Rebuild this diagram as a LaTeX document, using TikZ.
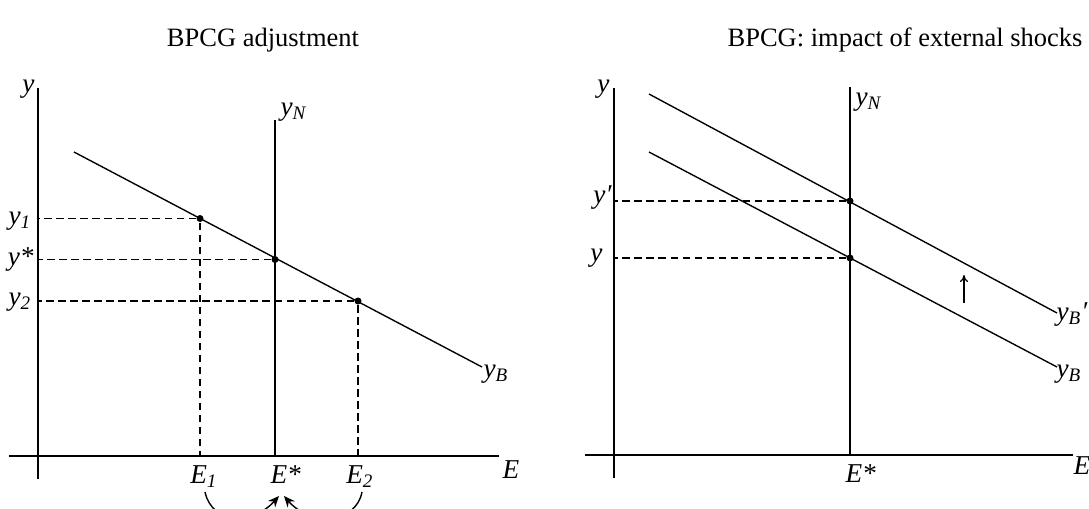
\documentclass[tikz,border=0pt]{standalone}
\usepackage{fontspec}
\setmainfont{Liberation Serif}
\usepackage{tikz}
\usetikzlibrary{arrows.meta,positioning,calc}
\newcommand{\lsub}[1]{\textsubscript{#1}}
\tikzset{
  axis/.style={draw=black,line width=0.8pt},
  sched/.style={draw=black,line width=0.55pt},
  guide/.style={draw=black,line width=0.55pt,dash pattern=on 3pt off 1.8pt},
  dot/.style={circle,fill=black,inner sep=0pt,minimum size=2.8pt},
  lbl/.style={inner sep=0pt,font=\fontsize{10.9}{13}\selectfont\itshape},
  ttl/.style={inner sep=0pt,font=\fontsize{10.6}{13}\selectfont},
  swing/.style={line width=0.55pt,-{Stealth[length=4.4pt,width=3.8pt]}},
  push/.style={line width=0.5pt,-{To[length=2.8pt,width=3.2pt]}},
}
\begin{document}
\begin{tikzpicture}[x=0.4pt,y=-0.4pt]
  \useasboundingbox (0,0) rectangle (1089,508);
  % --- left panel: adjustment ---
  \node[ttl,anchor=base](t1) at (263,46){BPCG adjustment};
  \coordinate (ax1l) at (9,456);   \coordinate (ax1r) at (499,456);
  \coordinate (ay1t) at (38,88);   \coordinate (ay1b) at (38,479);
  \coordinate (n1t) at (275,120);  \coordinate (n1b) at (275,456);
  \coordinate (b1s) at (74,152);   \coordinate (b1e) at (482,367);
  \draw[axis](ax1l)--(ax1r);
  \draw[axis](ay1t)--(ay1b);
  \draw[sched](n1t)--(n1b);
  \draw[sched](b1s)--(b1e);
  \node[dot](p1) at (200,218.5){};
  \node[dot](p2) at (275,259.5){};
  \node[dot](p3) at (358,301){};
  \foreach \p in {p1,p2,p3}
    \draw[guide](\p)--(\p -| ay1t);
  \foreach \p in {p1,p3}
    \draw[guide](\p)--(\p |- ax1l);
  \node[lbl,anchor=base east](ly)  at (35,92){y};
  \node[lbl,anchor=base east](ly1) at (32,224){y\lsub{1}};
  \node[lbl,anchor=base east](lys) at (34,265){y*};
  \node[lbl,anchor=base east](ly2) at (32,305){y\lsub{2}};
  \node[lbl,anchor=base west](lyn) at (280,115){y\lsub{N}};
  \node[lbl,anchor=base west](lyb) at (483,377){y\lsub{B}};
  \node[lbl,anchor=base west](lx)  at (502,478){E};
  \node[lbl,anchor=base](le1) at (204,483){E\lsub{1}};
  \node[lbl,anchor=base west](les) at (270,483){E*};
  \node[lbl,anchor=base](le2) at (360,483){E\lsub{2}};
  \coordinate (tipl) at (279,496);
  \coordinate (tipr) at (284,496);
  \draw[swing]($(le1.base)+(1,9)$) .. controls (212,524) and (252,526) .. (tipl);
  \draw[swing]($(le2.base)+(2,9)$) .. controls (356,524) and (310,526) .. (tipr);
  % --- right panel: external shock ---
  \node[ttl,anchor=base](t2) at (905,46){BPCG: impact of external shocks};
  \coordinate (ax2l) at (585,455);  \coordinate (ax2r) at (1073,455);
  \coordinate (ay2t) at (614,88);   \coordinate (ay2b) at (614,478);
  \coordinate (n2t) at (850,87);    \coordinate (n2b) at (850,455);
  \coordinate (u2s) at (649,94);    \coordinate (u2e) at (1057,313);
  \coordinate (d2s) at (649,152);   \coordinate (d2e) at (1057,367);
  \draw[axis](ax2l)--(ax2r);
  \draw[axis](ay2t)--(ay2b);
  \draw[sched](n2t)--(n2b);
  \draw[sched](u2s)--(u2e);
  \draw[sched](d2s)--(d2e);
  \node[dot](q1) at (850,201){};
  \node[dot](q2) at (850,258){};
  \foreach \p in {q1,q2}
    \draw[guide](\p)--(\p -| ay2t);
  \coordinate (sh0) at (964,303);
  \coordinate (sh1) at (964,275);
  \draw[push](sh0)--(sh1);
  \node[lbl,anchor=base east](ry)  at (610,92){y};
  \node[lbl,anchor=base east](ryp) at (612,203){y′};
  \node[lbl,anchor=base east](ry0) at (603,261){y};
  \node[lbl,anchor=base west](ryn) at (855,105){y\lsub{N}};
  \node[lbl,anchor=base west](rybp) at (1056,320){y\lsub{B}′};
  \node[lbl,anchor=base west](ryb) at (1056,377){y\lsub{B}};
  \node[lbl,anchor=base west](rx)  at (1073,474){E};
  \node[lbl,anchor=base west](res) at (845,482){E*};
\end{tikzpicture}
\end{document}
